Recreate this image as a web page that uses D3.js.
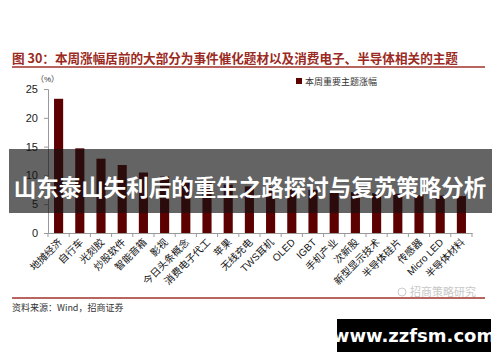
<!DOCTYPE html>
<html><head><meta charset="utf-8">
<script src="https://cdn.jsdelivr.net/npm/d3@7"></script>
<style>
body{margin:0;background:#fff;}
svg{display:block;font-family:"Liberation Sans","Noto Sans CJK SC",sans-serif;}
</style></head>
<body>
<svg id="c" width="500" height="362"></svg>
<script>
const categories = ["地摊经济","自行车","光刻胶","炒股软件","智能音箱","影视","今日头条概念","消费电子代工","苹果","无线充电","TWS耳机","OLED","IGBT","手机产业","次新股","新型显示技术","半导体硅片","传感器","Micro LED","半导体材料"];
const values = [23.3,14.7,12.9,11.8,10.5,9.8,9.2,8.8,8.4,8.1,7.9,7.7,7.5,7.3,7.1,6.9,6.8,6.6,6.5,6.4];
const yTicks = [0,5,10,15,20,25];
const seriesName = "本周重要主题涨幅";
const titleText = "图 30：本周涨幅居前的大部分为事件催化题材以及消费电子、半导体相关的主题";
const sourceText = "资料来源：Wind，招商证券";
const bannerText = "山东泰山失利后的重生之路探讨与复苏策略分析";
const siteText = "www.zzfsm.com";
const wechatText = "招商策略研究";

const svg = d3.select("#c");
const barColor = "#5c0000";
const red = "#a0302a";

// title
svg.append("text").attr("x",12).attr("y",63).attr("font-size",12.6).attr("font-weight","bold")
  .attr("fill","#9a2a22").attr("font-family","'Noto Sans CJK SC',sans-serif").text(titleText);
svg.append("line").attr("x1",12).attr("x2",485).attr("y1",67).attr("y2",67).attr("stroke",red).attr("stroke-width",1.5);

const x = d3.scaleBand().domain(categories).range([48,472]).paddingInner(0.57).paddingOuter(0.285);
const y = d3.scaleLinear().domain([0,25]).range([233,89]);

// y axis
const ya = svg.append("g").attr("transform","translate(48,0)")
  .call(d3.axisLeft(y).tickValues(yTicks).tickSize(4).tickPadding(6));
ya.selectAll("path,line").attr("stroke","#999");
ya.selectAll("text").attr("font-size",11).attr("fill","#222").attr("font-family","'Liberation Sans',Arial,sans-serif");

svg.append("text").attr("x",36).attr("y",82).attr("font-size",8).attr("fill","#333").text("（%）");

// x axis
const xa = svg.append("g").attr("transform","translate(0,233)")
  .call(d3.axisBottom(x).tickSize(0).tickFormat(""));
xa.select("path").attr("stroke","#999");
// ticks between bands
const bw = x.step();
const tickPos = d3.range(categories.length+1).map(i=>48+i*(424/categories.length));
svg.append("g").selectAll("line").data(tickPos).join("line")
  .attr("x1",d=>d).attr("x2",d=>d).attr("y1",233).attr("y2",237).attr("stroke","#999");

// bars
svg.append("g").selectAll("rect").data(values).join("rect")
  .attr("x",(d,i)=>x(categories[i])).attr("width",x.bandwidth())
  .attr("y",d=>y(d)).attr("height",d=>y(0)-y(d)).attr("fill",barColor);

// x labels
svg.append("g").selectAll("text").data(categories).join("text")
  .attr("transform",d=>`translate(${x(d)+x.bandwidth()/2+4},${243}) rotate(-45)`)
  .attr("text-anchor","end").attr("font-size",10).attr("fill","#111")
  .attr("font-family",d=>/[A-Za-z]/.test(d)?"'Liberation Sans',Arial,'Noto Sans CJK SC',sans-serif":"'Noto Sans CJK SC',sans-serif")
  .text(d=>d);

// legend
svg.append("rect").attr("x",296).attr("y",78).attr("width",6).attr("height",6).attr("fill",barColor);
svg.append("text").attr("x",305).attr("y",84.5).attr("font-size",9).attr("fill","#333")
  .attr("font-family","'Noto Sans CJK SC',sans-serif").text(seriesName);

// bottom line & source
svg.append("line").attr("x1",12).attr("x2",485).attr("y1",298).attr("y2",298).attr("stroke",red).attr("stroke-width",1.5);
svg.append("text").attr("x",410).attr("y",296).attr("font-size",11).attr("fill","#c8c8c8")
  .attr("font-family","'Noto Sans CJK SC',sans-serif").text(wechatText);
svg.append("circle").attr("cx",402).attr("cy",292).attr("r",4).attr("fill","none").attr("stroke","#ccc");
svg.append("text").attr("x",12).attr("y",311).attr("font-size",9).attr("fill","#333")
  .attr("font-family","'Noto Sans CJK SC',sans-serif").text(sourceText);

// banner overlay
svg.append("rect").attr("x",9).attr("y",149).attr("width",483).attr("height",64).attr("fill","rgba(17,17,17,0.65)");
svg.append("text").attr("x",250).attr("y",196).attr("text-anchor","middle").attr("font-size",22.5).attr("font-weight","bold")
  .attr("fill","#fff").attr("font-family","'Noto Sans CJK SC',sans-serif").text(bannerText);

// site watermark
svg.append("rect").attr("x",337).attr("y",319).attr("width",154).attr("height",33).attr("fill","#000");
svg.append("text").attr("x",414).attr("y",342).attr("text-anchor","middle").attr("font-size",18).attr("font-weight","bold")
  .attr("fill","#fff").attr("font-family","'DejaVu Sans',sans-serif").text(siteText);
</script>
</body></html>
